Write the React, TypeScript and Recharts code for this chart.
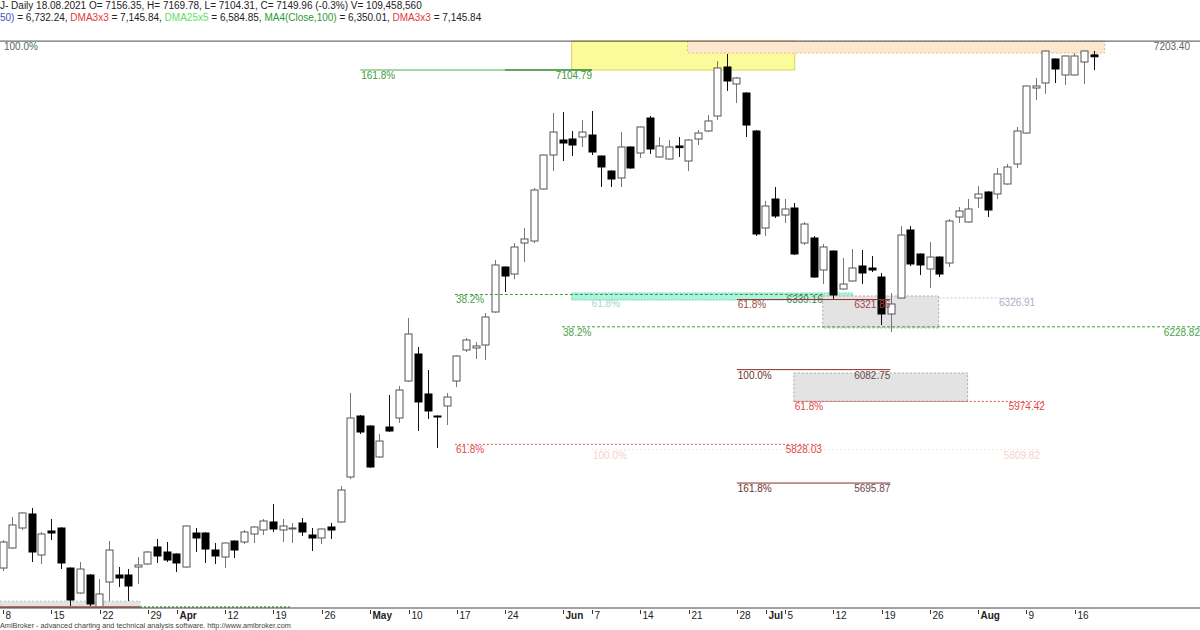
import React from 'react';
import { ComposedChart, Bar, XAxis, YAxis, ReferenceLine, ReferenceArea } from 'recharts';

// daily OHLC, 8 Mar 2021 .. 18 Aug 2021 (114 sessions)
const opens = [
  5406.1, 5474.4, 5542.6, 5590.4, 5450.5, 5532.4, 5542.6, 5406.1, 5320.9, 5382.3,
  5273.1, 5358.4, 5382.3, 5382.3, 5409.5, 5419.8, 5477.8, 5460.7, 5453.9, 5409.5,
  5525.5, 5525.5, 5467.5, 5443.6, 5498.2, 5494.8, 5522.1, 5535.8, 5563.1, 5535.8,
  5539.2, 5559.7, 5518.7, 5508.5, 5546.0, 5563.1, 5716.5, 5924.6, 5890.5, 5784.8,
  5887.1, 5917.8, 6044.0, 6136.1, 5999.7, 5924.6, 5958.7, 6044.0, 6149.8, 6156.6,
  6166.8, 6279.4, 6432.8, 6408.9, 6514.7, 6521.5, 6698.9, 6814.9, 6866.1, 6869.5,
  6876.3, 6883.1, 6811.5, 6760.3, 6736.4, 6842.2, 6821.7, 6941.1, 6808.1, 6801.2,
  6845.6, 6794.4, 6869.5, 6896.8, 6947.9, 7115.1, 7057.1, 7026.4, 6896.8, 6565.9,
  6664.8, 6610.2, 6634.1, 6514.7, 6531.8, 6422.6, 6487.4, 6357.8, 6385.1, 6436.3,
  6429.4, 6398.7, 6272.6, 6327.1, 6559.1, 6477.2, 6426.0, 6466.9, 6446.5, 6603.4,
  6586.4, 6668.2, 6688.7, 6681.9, 6716.0, 6784.2, 6889.9, 7043.4, 7060.5, 7142.4,
  7087.8, 7087.8, 7132.1, 7156.35,
];
const highs = [
  5501.7, 5580.2, 5596.0, 5610.9, 5529.0, 5573.3, 5545.0, 5408.0, 5426.6, 5385.0,
  5368.6, 5498.2, 5409.5, 5402.7, 5443.6, 5464.1, 5505.1, 5494.8, 5456.0, 5551.0,
  5542.6, 5528.0, 5491.4, 5493.0, 5500.0, 5535.8, 5548.0, 5573.3, 5624.5, 5573.3,
  5559.7, 5576.7, 5542.6, 5541.0, 5559.7, 5685.9, 6003.1, 5928.0, 5893.0, 5863.2,
  5996.2, 6027.0, 6258.9, 6160.0, 6081.5, 5926.0, 6003.1, 6131.0, 6190.7, 6177.1,
  6276.0, 6456.7, 6435.0, 6514.7, 6565.9, 6702.3, 6816.0, 6958.2, 6961.6, 6896.8,
  6934.3, 6964.9, 6813.0, 6762.0, 6893.3, 6844.0, 6912.0, 6947.9, 6876.3, 6866.1,
  6876.3, 6868.0, 6900.2, 6951.3, 7135.5, 7159.4, 7080.9, 7028.0, 6900.2, 6658.0,
  6705.7, 6664.8, 6651.2, 6586.4, 6538.6, 6511.3, 6489.0, 6463.5, 6494.2, 6490.8,
  6470.4, 6412.4, 6344.2, 6572.7, 6572.7, 6479.0, 6518.1, 6469.0, 6596.6, 6637.5,
  6664.8, 6709.2, 6691.0, 6770.6, 6784.2, 6910.4, 7052.0, 7077.5, 7171.0, 7144.0,
  7154.0, 7162.8, 7171.0, 7169.78,
];
const lows = [
  5395.9, 5472.0, 5535.8, 5426.6, 5419.8, 5501.7, 5402.7, 5272.0, 5318.0, 5276.5,
  5271.0, 5293.6, 5341.3, 5293.6, 5351.6, 5417.0, 5423.2, 5426.6, 5392.5, 5407.0,
  5460.7, 5423.2, 5419.8, 5406.1, 5440.2, 5488.0, 5491.4, 5518.7, 5529.0, 5494.8,
  5491.4, 5515.3, 5464.1, 5488.0, 5505.1, 5561.0, 5709.8, 5863.2, 5748.0, 5782.0,
  5870.0, 5900.8, 6041.0, 5873.4, 5914.4, 5815.5, 5893.9, 6023.5, 6143.0, 6119.1,
  6115.6, 6277.0, 6347.6, 6391.9, 6449.9, 6514.7, 6697.0, 6760.3, 6794.4, 6811.5,
  6842.2, 6814.9, 6705.7, 6705.7, 6705.7, 6768.0, 6804.7, 6818.3, 6806.0, 6799.0,
  6808.1, 6760.3, 6849.0, 6893.3, 6934.3, 7033.2, 6992.3, 6876.3, 6538.6, 6538.6,
  6600.0, 6583.0, 6473.8, 6507.9, 6396.0, 6374.8, 6323.7, 6354.4, 6383.0, 6374.8,
  6415.8, 6235.0, 6211.1, 6325.0, 6436.3, 6405.5, 6361.2, 6398.7, 6432.8, 6583.0,
  6584.0, 6634.1, 6603.4, 6664.8, 6714.0, 6770.6, 6888.0, 7002.5, 7023.0, 7060.5,
  7053.7, 7086.0, 7057.1, 7104.31,
];
const closes = [
  5494.8, 5552.9, 5593.8, 5460.7, 5522.1, 5525.5, 5423.2, 5297.0, 5402.7, 5283.4,
  5317.5, 5467.5, 5372.0, 5344.8, 5416.4, 5460.7, 5447.1, 5433.4, 5423.2, 5549.4,
  5508.5, 5470.9, 5447.1, 5491.4, 5467.5, 5529.0, 5546.0, 5566.5, 5539.2, 5549.4,
  5542.6, 5529.0, 5508.5, 5539.2, 5535.8, 5672.2, 5917.8, 5870.0, 5750.7, 5839.3,
  5873.4, 6013.3, 6204.3, 5972.4, 5941.7, 5921.2, 5989.4, 6129.3, 6183.9, 6163.4,
  6262.3, 6439.7, 6402.1, 6501.1, 6528.4, 6695.5, 6814.9, 6893.3, 6855.8, 6849.0,
  6893.3, 6825.1, 6774.0, 6733.0, 6842.2, 6770.6, 6910.4, 6835.4, 6845.6, 6842.2,
  6840.0, 6866.1, 6889.9, 6930.9, 7111.7, 7067.3, 7077.5, 6917.2, 6545.4, 6640.9,
  6606.8, 6630.7, 6477.2, 6579.5, 6398.7, 6501.1, 6337.4, 6374.8, 6429.4, 6412.4,
  6422.6, 6272.6, 6306.7, 6542.0, 6443.1, 6439.7, 6466.9, 6408.9, 6589.8, 6623.9,
  6630.7, 6681.9, 6627.3, 6750.1, 6774.0, 6896.8, 7050.3, 7050.3, 7169.6, 7108.2,
  7152.6, 7152.6, 7169.6, 7149.96,
];

// bar index of each date tick, and its text
const tickIdx = [0, 5, 10, 15, 18, 23, 28, 33, 38, 42, 47, 52, 58, 61, 66, 71, 76, 79, 81, 86, 91, 96, 101, 106, 111];
const tickLabels = ['8', '15', '22', '29', 'Apr', '12', '19', '26', 'May', '10', '17', '24', 'Jun', '7', '14', '21', '28', 'Jul', '5', '12', '19', '26', 'Aug', '9', '16'];
const monthNames = ['Apr', 'May', 'Jun', 'Jul', 'Aug'];

const rows = opens.map((o, i) => ({
  i,
  o,
  h: highs[i],
  l: lows[i],
  c: closes[i],
  range: [lows[i], highs[i]],
}));

const FONT = '"Liberation Sans", Arial, sans-serif';

const Candle = (props: any) => {
  const { x, y, width, height, payload } = props;
  if (x == null || payload == null) return null;
  const top = Math.min(y, y + height);
  const hgt = Math.abs(height);
  const { o, h, l, c } = payload;
  const py = (v: number) => top + ((h - v) / (h - l)) * hgt;
  const cx = Math.round(x + width / 2) + 0.5;
  const up = c >= o;
  const bTop = py(Math.max(o, c));
  const bBot = py(Math.min(o, c));
  return (
    <g>
      <line x1={cx} x2={cx} y1={top} y2={top + hgt} stroke={up ? '#777' : '#111'} strokeWidth={1} />
      <rect
        x={cx - 3.5}
        y={bTop}
        width={7}
        height={Math.max(1, bBot - bTop)}
        fill={up ? '#fff' : '#000'}
        stroke={up ? '#555' : '#000'}
        strokeWidth={1}
      />
    </g>
  );
};

const DateTick = (props: any) => {
  const { x, y, payload } = props;
  const k = tickIdx.indexOf(payload.value);
  if (k < 0) return null;
  const label = tickLabels[k];
  const bold = monthNames.includes(label);
  const tx = Math.round(x) + 0.5;
  return (
    <g>
      <line x1={tx} x2={tx} y1={y + 2} y2={y + 6} stroke="#333" />
      <text x={tx + 2} y={y + 10.5} fontSize={10} fontFamily={FONT} fontWeight={bold ? 'bold' : 'normal'} fill="#222">
        {label}
      </text>
    </g>
  );
};

const LevelLabel = (props: any) => {
  const { viewBox, left, right, color, rightColor, dx = 1, dy = 9, rdx = 0 } = props;
  if (!viewBox) return null;
  const { x, y, width } = viewBox;
  return (
    <g fontFamily={FONT} fontSize={10}>
      {left ? (
        <text x={x + dx} y={y + dy} fill={color}>
          {left}
        </text>
      ) : null}
      {right ? (
        <text x={x + width + rdx} y={y + dy} fill={rightColor || color} textAnchor="end">
          {right}
        </text>
      ) : null}
    </g>
  );
};

export default function App() {
  return (
    <div style={{ position: 'fixed', left: 0, top: 0, width: 1200, height: 630, background: '#fff', overflow: 'hidden', fontFamily: FONT }}>
      <div style={{ position: 'absolute', left: 0, top: 0 }}>
        <ComposedChart width={1200} height={630} data={rows} margin={{ top: 0, right: 0, bottom: 0, left: 0 }}>
          <XAxis
            dataKey="i"
            type="number"
            domain={[-0.31, 123.97]}
            allowDataOverflow
            ticks={tickIdx}
            interval={0}
            tick={<DateTick />}
            tickLine={false}
            tickSize={0}
            tickMargin={0}
            height={22}
            axisLine={{ stroke: '#444' }}
          />
          <YAxis hide domain={[5269.7, 7343.6]} allowDataOverflow />

          {/* top 100% level */}
          <ReferenceLine y={7203.4} stroke="#4a4a4a" label={<LevelLabel left="100.0%" right="7203.40" color="#4d6b6b" rightColor="#5a6a6a" dx={4} rdx={-10} />} />

          {/* target zones at the top */}
          <ReferenceArea x1={58.9} x2={82.0} y1={7104.79} y2={7203.4} fill="#fbfb9c" fillOpacity={1} stroke="#d4d45c" />
          <ReferenceArea x1={70.9} x2={114.1} y1={7162.8} y2={7203.4} fill="#fde7d0" fillOpacity={1} stroke="#f2b47a" strokeDasharray="2 2" />
          <ReferenceLine segment={[{ x: 37, y: 7104.79 }, { x: 61, y: 7104.79 }]} stroke="#4fae4f" label={<LevelLabel left="161.8%" right="7104.79" color="#3d9a3d" />} />
          <ReferenceLine segment={[{ x: 52, y: 7104.79 }, { x: 61, y: 7104.79 }]} stroke="#1f751f" />

          {/* 6320-6340 cluster */}
          <ReferenceLine segment={[{ x: 46.8, y: 6339.16 }, { x: 84.9, y: 6339.16 }]} stroke="#3aa03a" strokeDasharray="3 2" label={<LevelLabel left="38.2%" right="6339.16" color="#4aa04a" rightColor="#5a7a5a" />} />
          <ReferenceArea x1={58.9} x2={88.0} y1={6320.3} y2={6344.2} fill="#aef3df" fillOpacity={1} stroke="#6fdcb8" strokeDasharray="2 1" label={<LevelLabel left="61.8%" color="#a3d6ca" dx={20} dy={14} />} />
          <ReferenceArea x1={84.9} x2={96.9} y1={6224.8} y2={6334.0} fill="#e3e3e3" fillOpacity={1} stroke="#aaa" strokeDasharray="2 2" />
          <ReferenceLine segment={[{ x: 76, y: 6321.86 }, { x: 91.9, y: 6321.86 }]} stroke="#9a3030" label={<LevelLabel left="61.8%" right="6321.86" color="#a04848" dy={8} />} />
          <ReferenceLine segment={[{ x: 96.9, y: 6326.91 }, { x: 106.9, y: 6326.91 }]} stroke="#c8c8c8" strokeDasharray="2 2" label={<LevelLabel right="6326.91" color="#a8b0cc" dy={8} />} />
          <ReferenceLine segment={[{ x: 57.9, y: 6228.82 }, { x: 123.97, y: 6228.82 }]} stroke="#3aa03a" strokeDasharray="3 2" label={<LevelLabel left="38.2%" right="6228.82" color="#4aa04a" />} />

          {/* lower projections */}
          <ReferenceLine segment={[{ x: 76, y: 6082.75 }, { x: 91.9, y: 6082.75 }]} stroke="#8b2c2c" label={<LevelLabel left="100.0%" right="6082.75" color="#6b3030" rightColor="#6b4848" />} />
          <ReferenceArea x1={81.9} x2={99.9} y1={5974.42} y2={6071.3} fill="#e3e3e3" fillOpacity={1} stroke="#aaa" strokeDasharray="2 2" />
          <ReferenceLine segment={[{ x: 81.9, y: 5974.42 }, { x: 107.9, y: 5974.42 }]} stroke="#e04848" strokeDasharray="2 2" label={<LevelLabel left="61.8%" right="5974.42" color="#e04848" />} />
          <ReferenceLine segment={[{ x: 61, y: 5809.82 }, { x: 107.4, y: 5809.82 }]} stroke="#f8e2de" strokeDasharray="2 2" label={<LevelLabel left="100.0%" right="5809.82" color="#f0d4ca" />} />
          <ReferenceLine segment={[{ x: 46.8, y: 5828.03 }, { x: 84.8, y: 5828.03 }]} stroke="#e05858" strokeDasharray="2 2" label={<LevelLabel left="61.8%" right="5828.03" color="#e04848" />} />
          <ReferenceLine segment={[{ x: 76, y: 5695.87 }, { x: 91.9, y: 5695.87 }]} stroke="#8b2c2c" label={<LevelLabel left="161.8%" right="5695.87" color="#6b3030" rightColor="#6b4848" />} />

          {/* bottom-left remnants */}
          <ReferenceArea x1={-0.31} x2={14.2} y1={5272} y2={5293} fill="#e3e3e3" fillOpacity={1} stroke="#c0c0c0" strokeDasharray="2 2" />
          <ReferenceLine segment={[{ x: -0.31, y: 5273.1 }, { x: 14.2, y: 5273.1 }]} stroke="#b07070" strokeWidth={2} />
          <ReferenceLine segment={[{ x: 14.2, y: 5273.1 }, { x: 29.7, y: 5273.1 }]} stroke="#60c060" strokeDasharray="2 2" strokeWidth={2} />

          <Bar dataKey="range" shape={(p: any) => <Candle {...p} />} barSize={7} isAnimationActive={false} />
        </ComposedChart>
      </div>

      <div style={{ position: 'absolute', left: 0, top: 0, fontSize: 10, lineHeight: '11px', color: '#222', whiteSpace: 'nowrap' }}>
        J- Daily 18.08.2021 O= 7156.35, H= 7169.78, L= 7104.31, C= 7149.96 (-0.3%) V= 109,458,560
      </div>
      <div style={{ position: 'absolute', left: 0, top: 12, fontSize: 10, lineHeight: '11px', color: '#222', whiteSpace: 'nowrap' }}>
        <span style={{ color: '#3a4fc8' }}>50)</span> = 6,732.24, <span style={{ color: '#e23a3a' }}>DMA3x3</span> = 7,145.84,{' '}
        <span style={{ color: '#5ee05e' }}>DMA25x5</span> = 6,584.85, <span style={{ color: '#2e9a2e' }}>MA4(Close,100)</span> = 6,350.01,{' '}
        <span style={{ color: '#e23a3a' }}>DMA3x3</span> = 7,145.84
      </div>
      <div style={{ position: 'absolute', left: 0, top: 621, fontSize: 7.3, lineHeight: '9px', color: '#444', whiteSpace: 'nowrap' }}>
        AmiBroker - advanced charting and technical analysis software. http://www.amibroker.com
      </div>
    </div>
  );
}
